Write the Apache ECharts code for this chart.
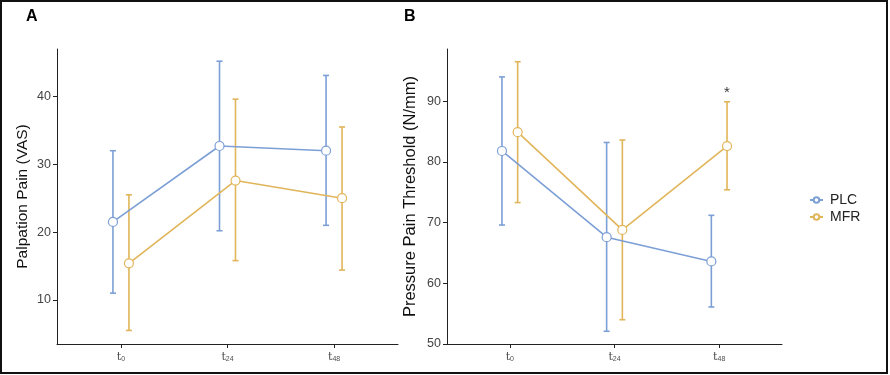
<!DOCTYPE html>
<html>
<head>
<meta charset="utf-8">
<script src="https://cdn.jsdelivr.net/npm/echarts@6/dist/echarts.min.js"></script>
<style>
  html, body { margin: 0; padding: 0; background: #fff; }
  #main { width: 890px; height: 375px; }
</style>
</head>
<body>
<div id="main"></div>
<script>
// time points (x positions 1..3) and their subscript labels
const timePos = [1, 2, 3];
const timeSub = ['0', '24', '48'];
const groups = ['PLC', 'MFR'];

// A: palpation pain (VAS) — mean, lower, upper
const plcVas = [21.5, 32.7, 32.0];
const plcVasLo = [11.0, 20.2, 21.0];
const plcVasHi = [32.0, 45.2, 43.1];
const mfrVas = [15.4, 27.6, 25.0];
const mfrVasLo = [5.5, 15.8, 14.4];
const mfrVasHi = [25.5, 39.6, 35.5];

// B: pressure pain threshold (N/mm)
const plcPpt = [81.8, 67.6, 63.6];
const plcPptLo = [69.6, 52.1, 56.1];
const plcPptHi = [94.0, 83.2, 71.2];
const mfrPpt = [84.9, 68.8, 82.6];
const mfrPptLo = [73.3, 54.0, 75.4];
const mfrPptHi = [96.5, 83.6, 89.9];

const vasTicks = [10, 20, 30, 40];
const pptTicks = [50, 60, 70, 80, 90];

const colors = { PLC: '#7C9FD6', MFR: '#E1B55A' };
const dodge = { PLC: -0.075, MFR: 0.075 };

const chart = echarts.init(document.getElementById('main'));

// 误差线
const errorBarRender = (color) => function (params, api) {
    const x = api.value(0);
    const top = api.coord([x, api.value(2)]);
    const bot = api.coord([x, api.value(1)]);
    const w = 3;
    const style = { stroke: color, lineWidth: 1.6 };
    return {
        type: 'group',
        children: [
            { type: 'line', shape: { x1: top[0], y1: top[1], x2: bot[0], y2: bot[1] }, style },
            { type: 'line', shape: { x1: top[0] - w, y1: top[1], x2: top[0] + w, y2: top[1] }, style },
            { type: 'line', shape: { x1: bot[0] - w, y1: bot[1], x2: bot[0] + w, y2: bot[1] }, style }
        ]
    };
};

const makeSeries = (name, idx, mean, lo, hi) => {
    const c = colors[name];
    const d = dodge[name];
    return [
        {
            name: name + '-err',
            type: 'custom',
            xAxisIndex: idx,
            yAxisIndex: idx,
            z: 1,
            renderItem: errorBarRender(c),
            encode: { x: 0, y: [1, 2] },
            data: timePos.map((t, i) => [t + d, lo[i], hi[i]])
        },
        {
            name: name,
            type: 'line',
            xAxisIndex: idx,
            yAxisIndex: idx,
            z: 3,
            symbol: 'circle',
            symbolSize: 9,
            color: c,
            itemStyle: { color: '#fff', borderColor: c, borderWidth: 1.2 },
            lineStyle: { color: c, width: 1.6 },
            data: timePos.map((t, i) => [t + d, mean[i]])
        }
    ];
};

const xAxisBase = (idx) => ({
    type: 'value',
    gridIndex: idx,
    min: 0.4,
    max: 3.6,
    splitLine: { show: false },
    axisLine: { show: true, lineStyle: { color: '#222', width: 1 } },
    axisTick: { show: true, customValues: timePos, length: 4, lineStyle: { color: '#222' } },
    axisLabel: {
        customValues: timePos,
        margin: 8,
        formatter: (v) => '{t|t}{s|' + timeSub[Math.round(v) - 1] + '}',
        rich: {
            t: { fontSize: 11, color: '#4d4d4d', fontFamily: 'DejaVu Serif' },
            s: { fontSize: 7, color: '#4d4d4d', verticalAlign: 'bottom', padding: [4, 0, 0, 0] }
        }
    }
});

const yAxisBase = (idx, min, max, ticks, name, gap, nameSize) => ({
    type: 'value',
    gridIndex: idx,
    min: min,
    max: max,
    name: name,
    nameLocation: 'middle',
    nameGap: gap,
    nameTextStyle: { fontSize: nameSize, color: '#111', fontFamily: 'Liberation Sans' },
    splitLine: { show: false },
    axisLine: { show: true, lineStyle: { color: '#222', width: 1 } },
    axisTick: { show: true, customValues: ticks, length: 4, lineStyle: { color: '#222' } },
    axisLabel: { customValues: ticks, fontSize: 12.5, color: '#444', margin: 6, fontFamily: 'Liberation Sans' }
});

chart.setOption({
    animation: false,
    backgroundColor: '#fff',
    title: [
        { text: 'A', left: 21, top: 4, textStyle: { fontSize: 16, fontWeight: 'bold', color: '#000', fontFamily: 'Liberation Sans' } },
        { text: 'B', left: 399, top: 4, textStyle: { fontSize: 16, fontWeight: 'bold', color: '#000', fontFamily: 'Liberation Sans' } }
    ],
    legend: {
        data: groups,
        orient: 'vertical',
        left: 804,
        top: 188,
        itemWidth: 13,
        itemHeight: 7,
        itemGap: 3,
        textStyle: { fontSize: 14, color: '#222', fontFamily: 'Liberation Sans', padding: [0, 0, 0, 2] }
    },
    grid: [
        { left: 57, right: 492, top: 49, bottom: 31 },
        { left: 447, right: 108, top: 49, bottom: 31 }
    ],
    xAxis: [xAxisBase(0), xAxisBase(1)],
    yAxis: [
        yAxisBase(0, 3.5, 47, vasTicks, 'Palpation Pain (VAS)', 26, 15.5),
        yAxisBase(1, 50, 98.6, pptTicks, 'Pressure Pain Threshold (N/mm)', 28, 16.5)
    ],
    graphic: [
        {
            type: 'rect',
            shape: { x: 1, y: 1, width: 886, height: 372 },
            style: { fill: 'none', stroke: '#111', lineWidth: 2 },
            silent: true
        }
    ],
    series: [
        ...makeSeries('PLC', 0, plcVas, plcVasLo, plcVasHi),
        ...makeSeries('MFR', 0, mfrVas, mfrVasLo, mfrVasHi),
        ...makeSeries('PLC', 1, plcPpt, plcPptLo, plcPptHi),
        ...makeSeries('MFR', 1, mfrPpt, mfrPptLo, mfrPptHi),
        {
            name: 'sig',
            type: 'scatter',
            xAxisIndex: 1,
            yAxisIndex: 1,
            symbolSize: 0,
            label: { show: true, position: 'top', distance: 1, formatter: '*', fontSize: 15, color: '#000' },
            data: [[3 + dodge.MFR, mfrPptHi[2]]]
        }
    ]
});
</script>
</body>
</html>
